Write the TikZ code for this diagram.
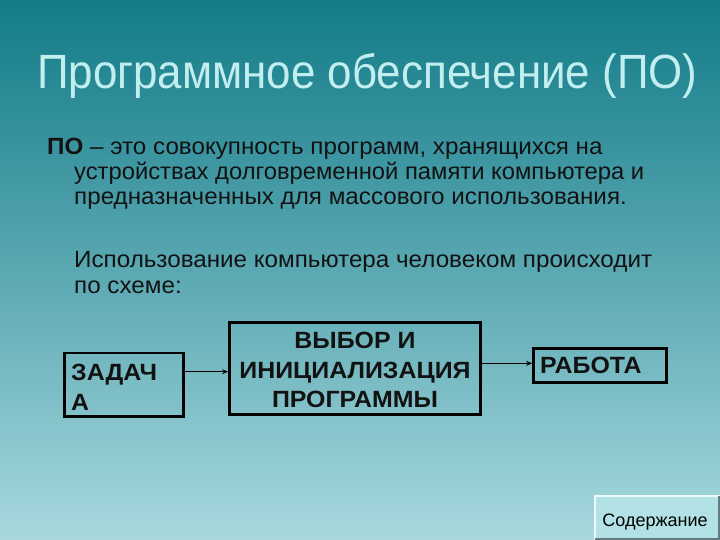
\documentclass[tikz,border=0pt]{standalone}
\usepackage{fontspec}
\setmainfont{Liberation Sans}
\newfontfamily\titlefont[FakeStretch=0.914]{Liberation Sans}
\newfontfamily\bodyfont[FakeStretch=1.03]{Liberation Sans}
\newfontfamily\bodyfontn[FakeStretch=1.012]{Liberation Sans}
\newfontfamily\boxfont[FakeStretch=1.06]{Liberation Sans}
\usetikzlibrary{arrows.meta}
\definecolor{bgtop}{RGB}{18,124,136}
\definecolor{bgmid}{RGB}{90,168,178}
\definecolor{bgbot}{RGB}{168,216,222}
\definecolor{titlecol}{RGB}{195,238,240}
\definecolor{txtcol}{RGB}{18,18,18}
\definecolor{btnfill}{RGB}{178,226,230}
\tikzset{
  bodytext/.style={anchor=base west, inner sep=0pt, text=txtcol, font=\bodyfont\fontsize{23.5}{25}\selectfont},
  boxtext/.style={anchor=base west, inner sep=0pt, text=txtcol, font=\boxfont\bfseries\fontsize{23.5}{25}\selectfont},
  schemebox/.style={draw=black, line width=2.8pt, inner sep=0pt},
  conn/.style={-{Stealth[length=6pt,width=5pt]}, line width=0.9pt, black}
}
\begin{document}
\begin{tikzpicture}[x=1pt,y=-1pt]
\useasboundingbox (0,0) rectangle (720,540);
\shade[top color=bgtop, bottom color=bgbot, middle color=bgmid] (0,0) rectangle (720,540);
% title
\node[anchor=base west, inner sep=0pt, text=titlecol, font=\titlefont\fontsize{48}{52}\selectfont] (title) at (37,88.5) {Программное обеспечение (ПО)};
% body
\node[bodytext] (l1) at (47,155) {\textbf{ПО} – это совокупность программ, хранящихся на};
\node[bodytext, font=\bodyfontn\fontsize{23.5}{25}\selectfont] (l2) at (74,180) {устройствах долговременной памяти компьютера и};
\node[bodytext] (l3) at (74,205) {предназначенных для массового использования.};
\node[bodytext] (l4) at (74,267.3) {Использование компьютера человеком происходит};
\node[bodytext] (l5) at (74,293.3) {по схеме:};
% scheme boxes
\node[schemebox, minimum width=119pt, minimum height=63.5pt] (task) at (124,384.75) {};
\node[boxtext] (taskt1) at (71,380) {ЗАДАЧ};
\node[boxtext] (taskt2) at (71,410) {А};
\node[schemebox, minimum width=251pt, minimum height=92pt] (init) at (355,368.5) {};
\node[boxtext, anchor=base] (initt1) at (355,348.3) {ВЫБОР И};
\node[boxtext, anchor=base] (initt2) at (355,378.3) {ИНИЦИАЛИЗАЦИЯ};
\node[boxtext, anchor=base] (initt3) at (355,407.3) {ПРОГРАММЫ};
\node[schemebox, minimum width=133pt, minimum height=34pt] (work) at (600,365.5) {};
\node[boxtext] (workt) at (540,373.3) {РАБОТА};
\draw[conn] (task.east |- 0,371.7) -- (init.west |- 0,371.7);
\draw[conn] (init.east |- 0,363.3) -- (work.west |- 0,363.3);
% button
\fill[btnfill] (594,495) rectangle (720,540);
\draw[white!80!btnfill, line width=2pt] (595,540) -- (595,496) -- (720,496);
\draw[black!45!btnfill, line width=2pt] (595,539) -- (719,539) -- (719,496);
\node[anchor=base, inner sep=0pt, font=\fontsize{18}{20}\selectfont, text=black] (btn) at (655,526.7) {Содержание};
\end{tikzpicture}
\end{document}
